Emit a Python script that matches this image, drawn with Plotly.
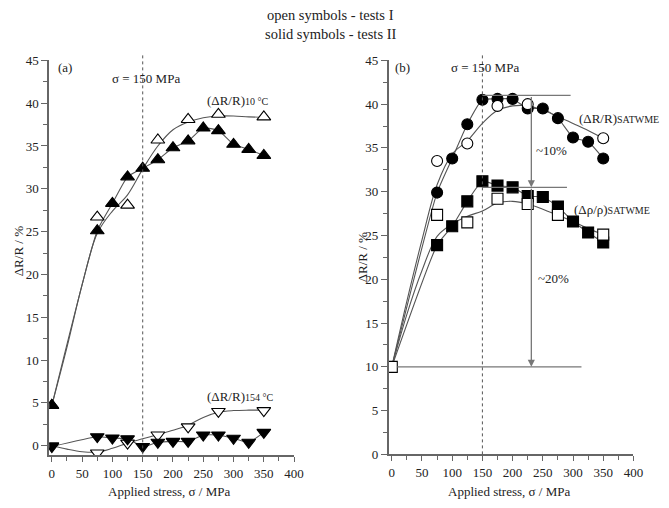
import plotly.graph_objects as go

# ---------------- data: panel (a) ----------------
a_x_open_up = [0, 75, 125, 175, 225, 275, 350]
a_y_open_up = [4.7, 26.7, 28.1, 35.7, 38.1, 38.7, 38.4]
a_x_solid_up = [0, 75, 100, 125, 150, 175, 200, 225, 250, 275, 300, 325, 350]
a_y_solid_up = [4.7, 25.1, 28.3, 31.4, 32.4, 33.4, 34.8, 35.6, 37.1, 36.8, 35.2, 34.6, 33.9]
a_fit_x = [0, 25, 50, 75, 100, 125, 150, 175, 200, 225, 250, 275, 300, 325, 350]
a_fit_up = [4.7, 11.5, 18.8, 24.8, 27.4, 29.3, 32.3, 35.0, 36.9, 37.8, 38.3, 38.5, 38.5, 38.4, 38.35]

a_x_open_dn = [0, 75, 125, 175, 225, 275, 350]
a_y_open_dn = [0.0, -0.85, 0.3, 1.25, 2.2, 4.0, 4.1]
a_x_solid_dn = [0, 75, 100, 125, 150, 175, 200, 225, 250, 275, 300, 325, 350]
a_y_solid_dn = [-0.1, 1.05, 0.9, 0.8, -0.1, 0.4, 0.5, 0.5, 1.25, 1.25, 0.87, 0.4, 1.55]
a_fit_dn = [0.0, -0.4, -0.7, -0.75, -0.3, 0.3, 0.8, 1.3, 1.8, 2.4, 3.3, 3.9, 4.1, 4.15, 4.15]

# ---------------- data: panel (b) ----------------
b_x_open_c = [0, 75, 125, 175, 225, 350]
b_y_open_c = [10, 33.5, 35.5, 39.8, 40.0, 36.1]
b_x_solid_c = [0, 75, 100, 125, 150, 175, 200, 225, 250, 275, 300, 325, 350]
b_y_solid_c = [10, 29.9, 33.8, 37.7, 40.5, 40.6, 40.6, 39.5, 39.5, 38.4, 36.2, 35.7, 33.8]
b_fit_x = [0, 25, 50, 75, 100, 125, 150, 175, 200, 225, 250, 275, 300, 325, 350]
b_fit_c = [10, 17.5, 24.5, 30.8, 34.3, 35.8, 37.8, 39.3, 39.8, 39.8, 39.3, 38.6, 37.8, 37.0, 36.1]

b_x_open_s = [0, 75, 125, 175, 225, 275, 350]
b_y_open_s = [10, 27.35, 26.5, 29.2, 28.6, 27.35, 25.1]
b_x_solid_s = [0, 75, 100, 125, 150, 175, 200, 225, 250, 275, 300, 325, 350]
b_y_solid_s = [10, 23.9, 26.05, 28.9, 31.2, 30.7, 30.5, 29.5, 29.4, 28.3, 26.6, 25.35, 24.2]
b_fit_s = [10, 16.0, 21.0, 24.9, 26.3, 27.2, 27.8, 28.7, 28.9, 28.6, 28.0, 27.3, 26.6, 25.8, 25.1]

# reference levels in panel (b)
b_level_x0 = [150, 150, 9]
b_level_x1 = [296, 290, 314]
b_level_y = [41.0, 30.5, 10.0]
b_arrow_x = 231
sigma_ref = 150

FONT = "Liberation Serif, Times New Roman, DejaVu Serif, serif"
LINE = "#555555"
AX = "#666666"
TXT = "#222222"

fig = go.Figure()


def line(x, y, xa, ya, smooth=1.0):
    fig.add_trace(go.Scatter(x=x, y=y, mode="lines", xaxis=xa, yaxis=ya,
                             line=dict(color=LINE, width=1.1, shape="spline", smoothing=smooth),
                             hoverinfo="skip", showlegend=False))


def marks(x, y, xa, ya, symbol, filled, size):
    fig.add_trace(go.Scatter(x=x, y=y, mode="markers", xaxis=xa, yaxis=ya,
                             marker=dict(symbol=symbol, size=size,
                                         color="black" if filled else "white",
                                         line=dict(color="black", width=1.1)),
                             showlegend=False))


# panel (a)
line(a_fit_x, a_fit_up, "x", "y")
line(a_x_solid_up, a_y_solid_up, "x", "y", 0.5)
line(a_fit_x, a_fit_dn, "x", "y")
line(a_x_solid_dn, a_y_solid_dn, "x", "y", 0.5)
marks(a_x_open_up, a_y_open_up, "x", "y", "triangle-up", False, 12)
marks(a_x_solid_up, a_y_solid_up, "x", "y", "triangle-up", True, 12)
marks(a_x_open_dn, a_y_open_dn, "x", "y", "triangle-down", False, 12)
marks(a_x_solid_dn, a_y_solid_dn, "x", "y", "triangle-down", True, 12)

# panel (b)
line(b_fit_x, b_fit_c, "x2", "y2")
line(b_x_solid_c, b_y_solid_c, "x2", "y2", 0.5)
line(b_fit_x, b_fit_s, "x2", "y2")
line(b_x_solid_s, b_y_solid_s, "x2", "y2", 0.5)
for x0, x1, yv in zip(b_level_x0, b_level_x1, b_level_y):
    fig.add_shape(type="line", xref="x2", yref="y2", x0=x0, x1=x1, y0=yv, y1=yv,
                  line=dict(color="#777777", width=1.3))
marks(b_x_solid_c[1:], b_y_solid_c[1:], "x2", "y2", "circle", True, 11)
marks(b_x_open_c[1:], b_y_open_c[1:], "x2", "y2", "circle", False, 11)
marks(b_x_solid_s[1:], b_y_solid_s[1:], "x2", "y2", "square", True, 11)
marks(b_x_open_s, b_y_open_s, "x2", "y2", "square", False, 11)

# dotted sigma lines
for xr in ["x", "x2"]:
    fig.add_shape(type="line", xref=xr, yref="paper", x0=sigma_ref, x1=sigma_ref,
                  y0=47 / 508, y1=460 / 508, line=dict(color=LINE, width=1, dash="dot"))

# arrows (b)
for ytop, ybot in [(b_level_y[0], b_level_y[1]), (b_level_y[1], b_level_y[2])]:
    fig.add_annotation(x=b_arrow_x, y=ybot, ax=b_arrow_x, ay=ytop, xref="x2", yref="y2",
                       axref="x2", ayref="y2", text="", showarrow=True,
                       arrowhead=2, arrowsize=1.1, arrowwidth=1.3, arrowcolor="#777777")

tf = dict(family=FONT, size=13, color=TXT)
sub = "font-size:10px"
ann = [
    dict(x=0.5, y=1 - 8 / 508, xref="paper", yref="paper", text="open symbols - tests I", size=14.5),
    dict(x=0.5, y=1 - 28 / 508, xref="paper", yref="paper", text="solid symbols - tests II", size=14.5),
    dict(x=22, y=44.2, xref="x", yref="y", text="(a)"),
    dict(x=156, y=42.9, xref="x", yref="y", text="σ = 150 MPa"),
    dict(x=253, y=40.3, xref="x", yref="y", text="(ΔR/R)<span style='%s'>10 °C</span>" % sub, xanchor="left"),
    dict(x=253, y=5.8, xref="x", yref="y", text="(ΔR/R)<span style='%s'>154 °C</span>" % sub, xanchor="left"),
    dict(x=18, y=44.2, xref="x2", yref="y2", text="(b)"),
    dict(x=155, y=44.2, xref="x2", yref="y2", text="σ = 150 MPa"),
    dict(x=306, y=38.4, xref="x2", yref="y2", text="(ΔR/R)<span style='%s'>SATWME</span>" % sub, xanchor="left"),
    dict(x=298, y=28.0, xref="x2", yref="y2", text="(Δρ/ρ)<span style='%s'>SATWME</span>" % sub, xanchor="left"),
    dict(x=235, y=34.7, xref="x2", yref="y2", text="~10%", xanchor="left"),
    dict(x=239, y=20.1, xref="x2", yref="y2", text="~20%", xanchor="left"),
    dict(x=171 / 669, y=1 - 499 / 508, xref="paper", yref="paper", text="Applied stress, σ / MPa"),
    dict(x=517 / 669, y=1 - 499 / 508, xref="paper", yref="paper", text="Applied stress, σ / MPa"),
    dict(x=18 / 669, y=1 - 252 / 508, xref="paper", yref="paper", text="ΔR/R / %", textangle=-90),
    dict(x=367 / 669, y=1 - 258 / 508, xref="paper", yref="paper", text="ΔR/R / %", textangle=-90),
]
for a in ann:
    size = a.pop("size", 13)
    a.setdefault("showarrow", False)
    a.setdefault("xanchor", "center")
    a["yanchor"] = "middle"
    a["font"] = dict(family=FONT, size=size, color=TXT)
    fig.add_annotation(**a)

common_x = dict(showline=True, linecolor=AX, linewidth=1.5, showgrid=False, zeroline=False,
                ticks="outside", ticklen=5, tickwidth=1.2, tickcolor=AX, dtick=50, tick0=0,
                minor=dict(dtick=25, ticks="outside", ticklen=4, tickcolor=AX, showgrid=False),
                tickfont=dict(family=FONT, size=13, color=TXT))
common_y = dict(showline=True, linecolor=AX, linewidth=1.5, showgrid=False, zeroline=False,
                ticks="outside", ticklen=6, tickwidth=1.2, tickcolor=AX, dtick=5, tick0=0,
                minor=dict(dtick=2.5, ticks="outside", ticklen=4, tickcolor=AX, showgrid=False),
                tickfont=dict(family=FONT, size=13, color=TXT))

fig.update_layout(
    width=669, height=508, margin=dict(l=0, r=0, t=0, b=0),
    font=dict(family=FONT, size=13, color=TXT),
    paper_bgcolor="white", plot_bgcolor="white", showlegend=False,
    xaxis=dict(domain=[49 / 669, 298 / 669], range=[-4.4, 400], anchor="y", **common_x),
    yaxis=dict(domain=[46 / 508, 453 / 508], range=[-1.13, 45], anchor="x", **common_y),
    xaxis2=dict(domain=[394 / 669, 643 / 669], range=[-5.4, 400], anchor="y2", **common_x),
    yaxis2=dict(domain=[47 / 508, 453 / 508], range=[0, 45], anchor="x2", **common_y),
)

fig.write_html("out.html")
